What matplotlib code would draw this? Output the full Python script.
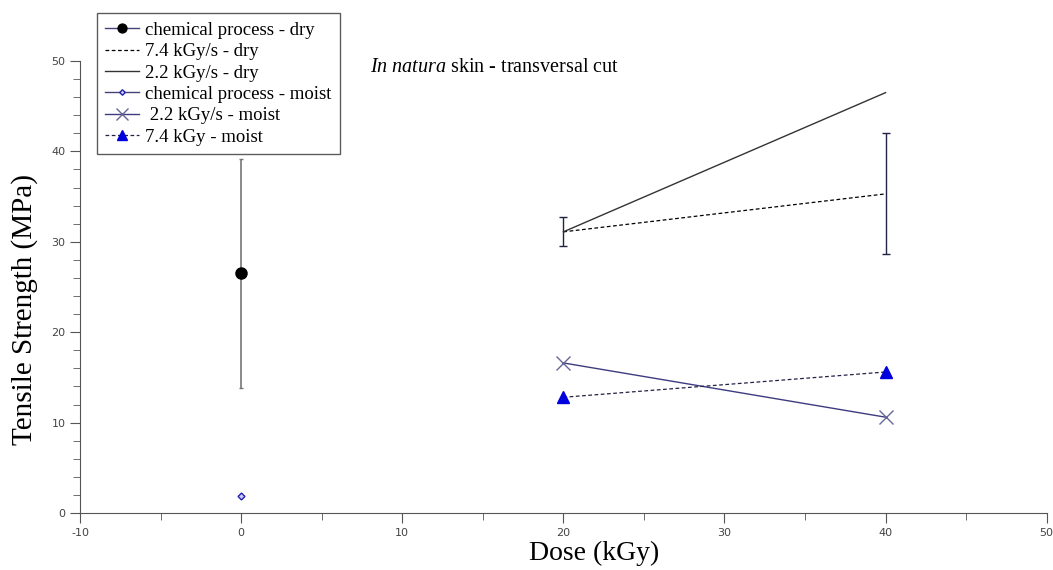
import matplotlib
matplotlib.use("Agg")
import matplotlib.pyplot as plt
from matplotlib.ticker import MultipleLocator

plt.rcParams['mathtext.fontset'] = 'custom'
plt.rcParams['mathtext.rm'] = 'Liberation Serif'
plt.rcParams['mathtext.it'] = 'Liberation Serif:italic'
plt.rcParams['axes.unicode_minus'] = False

# data
dose_chem = [0]
chem_dry = [26.5]
chem_dry_err = [12.7]
chem_moist = [1.9]

dose_irr = [20, 40]
dry_74 = [31.1, 35.3]
dry_74_err = 6.7      # only at 40 kGy
dry_22 = [31.1, 46.5]
dry_22_err = 1.6      # only at 20 kGy
moist_22 = [16.6, 10.6]
moist_74 = [12.8, 15.6]

fig = plt.figure(figsize=(10.53, 5.70), dpi=100)
ax = fig.add_axes([0.076, 0.10, 0.918, 0.793])

serif = 'Liberation Serif'

# dry series
ax.errorbar(dose_chem, chem_dry, yerr=chem_dry_err, fmt='none', ecolor='#777777',
            elinewidth=1.2, capsize=1.5)
h1, = ax.plot(dose_chem, chem_dry, color='#44447a', lw=1, marker='o', ms=8,
              mfc='black', mec='black', label='chemical process - dry')
ax.errorbar(dose_irr[1:], dry_74[1:], yerr=dry_74_err, fmt='none', ecolor='#222244',
            elinewidth=1, capsize=3)
h2, = ax.plot(dose_irr, dry_74, color='black', lw=0.9, ls=(0, (3, 2)),
              label='7.4 kGy/s - dry')
ax.errorbar(dose_irr[:1], dry_22[:1], yerr=dry_22_err, fmt='none', ecolor='#222244',
            elinewidth=1, capsize=3)
h3, = ax.plot(dose_irr, dry_22, color='#333333', lw=1, label='2.2 kGy/s - dry')

# moist series
h4, = ax.plot(dose_chem, chem_moist, color='#44447a', lw=1, marker='D', ms=3.5,
              mfc='#ccccff', mec='#2222aa', label='chemical process - moist')
h5, = ax.plot(dose_irr, moist_22, color='#3c3c80', lw=1, marker='x', ms=10,
              mew=1, mec='#666699', label=' 2.2 kGy/s - moist')
h6, = ax.plot(dose_irr, moist_74, color='#222244', lw=0.9, ls=(0, (3, 2)),
              marker='^', ms=9, mfc='#0000dd', mec='#0000dd',
              label='7.4 kGy - moist')

ax.set_xlim(-10, 50)
ax.set_ylim(0, 50)
ax.xaxis.set_major_locator(MultipleLocator(10))
ax.xaxis.set_minor_locator(MultipleLocator(5))
ax.yaxis.set_major_locator(MultipleLocator(10))
ax.yaxis.set_minor_locator(MultipleLocator(2))

for s in ['top', 'right']:
    ax.spines[s].set_visible(False)
for s in ['left', 'bottom']:
    ax.spines[s].set_color('#555555')
ax.tick_params(which='major', direction='out', length=7, color='#555555',
               labelsize=8, labelcolor='#444444')
ax.tick_params(which='minor', direction='out', length=5, color='#555555')

ax.set_xlabel('Dose (kGy)', fontfamily=serif, fontsize=20)
ax.xaxis.set_label_coords(0.532, -0.062)
ax.set_ylabel('Tensile Strength (MPa)', fontfamily=serif, fontsize=21)
ax.yaxis.set_label_coords(-0.043, 0.45)

ax.text(8.0, 50.3, r'$\it{In\ natura}$ skin - transversal cut', fontfamily=serif,
        fontsize=14.5, va='top', ha='left')

leg = fig.legend(handles=[h1, h2, h3, h4, h5, h6], loc='upper left',
                 bbox_to_anchor=(0.092, 0.977), prop={'family': serif, 'size': 13.5},
                 frameon=True, fancybox=False, edgecolor='#333333',
                 handlelength=1.8, handletextpad=0.3, labelspacing=0.23,
                 borderpad=0.45, borderaxespad=0, markerscale=0.8)
leg.get_frame().set_linewidth(1)

fig.savefig('out.png', dpi=100)
